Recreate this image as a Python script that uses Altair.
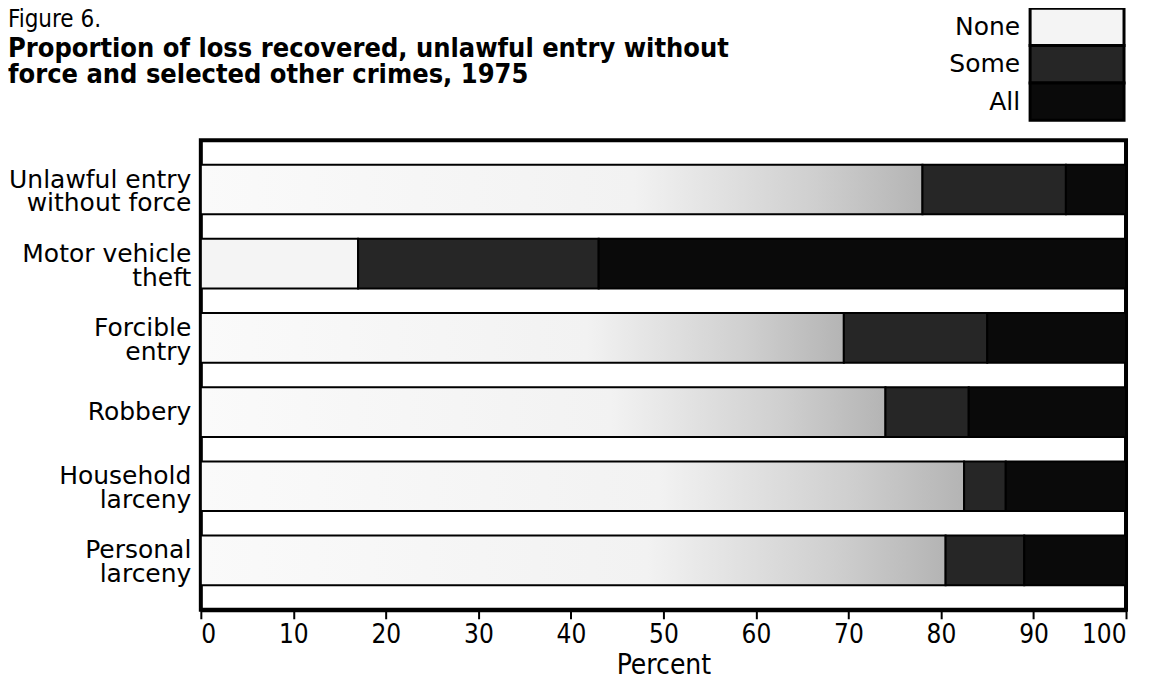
import altair as alt
import pandas as pd

# ---- data ----
crimes = ["Unlawful entry|without force", "Motor vehicle|theft", "Forcible|entry",
          "Robbery", "Household|larceny", "Personal|larceny"]
status = ["None", "Some", "All"]
none_pct = [78, 17, 69.5, 74, 82.5, 80.5]
some_pct = [15.5, 26, 15.5, 9, 4.5, 8.5]
all_pct = [6.5, 57, 15, 17, 13, 11]
x_ticks = [0, 10, 20, 30, 40, 50, 60, 70, 80, 90, 100]

rows = []
for i, c in enumerate(crimes):
    for j, (s, v) in enumerate(zip(status, [none_pct[i], some_pct[i], all_pct[i]])):
        rows.append({"crime": c, "status": s, "pct": v, "k": j})
df = pd.DataFrame(rows)
legend_df = pd.DataFrame({"status": status})

LABEL_FONT = "DejaVu Sans"
NARROW = "Liberation Sans Narrow, DejaVu Sans Condensed, DejaVu Sans, sans-serif"

# halftone of the "None" fill gets darker towards its right end in the print
none_gradient = {
    "gradient": "linear", "x1": 0, "x2": 1, "y1": 0, "y2": 0,
    "stops": [
        {"offset": 0, "color": "#fafafa"},
        {"offset": 0.6, "color": "#f2f2f2"},
        {"offset": 0.85, "color": "#cfcfcf"},
        {"offset": 1, "color": "#b4b4b4"},
    ],
}

color_scale = alt.Scale(domain=status, range=["#f4f4f4", "#262626", "#0a0a0a"])
color = alt.Color("status:N", scale=color_scale, legend=None)

bars = alt.Chart(df).mark_bar(stroke="black", strokeWidth=2).encode(
    x=alt.X("pct:Q", stack="zero",
            scale=alt.Scale(domain=[0, 100], nice=False),
            axis=alt.Axis(values=x_ticks, title="Percent", grid=False,
                          domainColor="black", domainWidth=4,
                          tickColor="black", tickWidth=2, tickSize=9,
                          labelFont=NARROW, labelFontSize=26, labelColor="black",
                          labelPadding=3, titleFont=NARROW, titleFontSize=28,
                          titleFontWeight="normal", titleColor="black",
                          titlePadding=4)),
    y=alt.Y("crime:N", sort=crimes,
            scale=alt.Scale(paddingInner=0.33, paddingOuter=0.33),
            axis=alt.Axis(title=None, domain=False, ticks=False,
                          labelExpr="split(datum.label, '|')",
                          labelOffset={"condition": {"test": "indexof(datum.value, '|') >= 0",
                                                     "value": -10},
                                       "value": 0},
                          labelFont=LABEL_FONT, labelFontSize=25,
                          labelColor="black", labelLineHeight=24,
                          labelPadding=10, labelLimit=300)),
    color=alt.condition("datum.status === 'None' && datum.pct > 30",
                        alt.value(none_gradient), color),
    order=alt.Order("k:Q"),
)

# hand-built legend (swatches stacked, labels on the left) above the plot
leg_y = alt.Y("status:N", sort=status,
              scale=alt.Scale(range=[-132, -20], paddingInner=0, paddingOuter=0),
              axis=None)
leg_rect = alt.Chart(legend_df).mark_rect(stroke="black", strokeWidth=3).encode(
    y=leg_y, x=alt.value(830), x2=alt.value(924), color=color,
)
leg_text = alt.Chart(legend_df).mark_text(
    align="right", baseline="middle", dx=-10, font=LABEL_FONT, fontSize=25,
    color="black",
).encode(y=leg_y, x=alt.value(830), text="status:N")

chart = alt.layer(bars, leg_rect, leg_text).resolve_scale(y="independent").properties(
    width=926, height=470,
    autosize=alt.AutoSizeParams(type="none"),
    padding={"left": 193, "top": 132, "right": 20, "bottom": 70},
    title=alt.Title(
        "Figure 6.",
        subtitle=["Proportion of loss recovered, unlawful entry without",
                  "force and selected other crimes, 1975"],
        anchor="start", frame="group", dx=-193, offset=-81,
        font=NARROW, fontSize=24, fontWeight="normal", color="black",
        subtitleFont=NARROW, subtitleFontSize=27, subtitleFontWeight="bold",
        subtitleColor="black", subtitlePadding=4, subtitleLineHeight=26,
    ),
).configure_view(stroke="black", strokeWidth=4)

chart.save("out.html", embed_options={"renderer": "svg", "actions": False})
